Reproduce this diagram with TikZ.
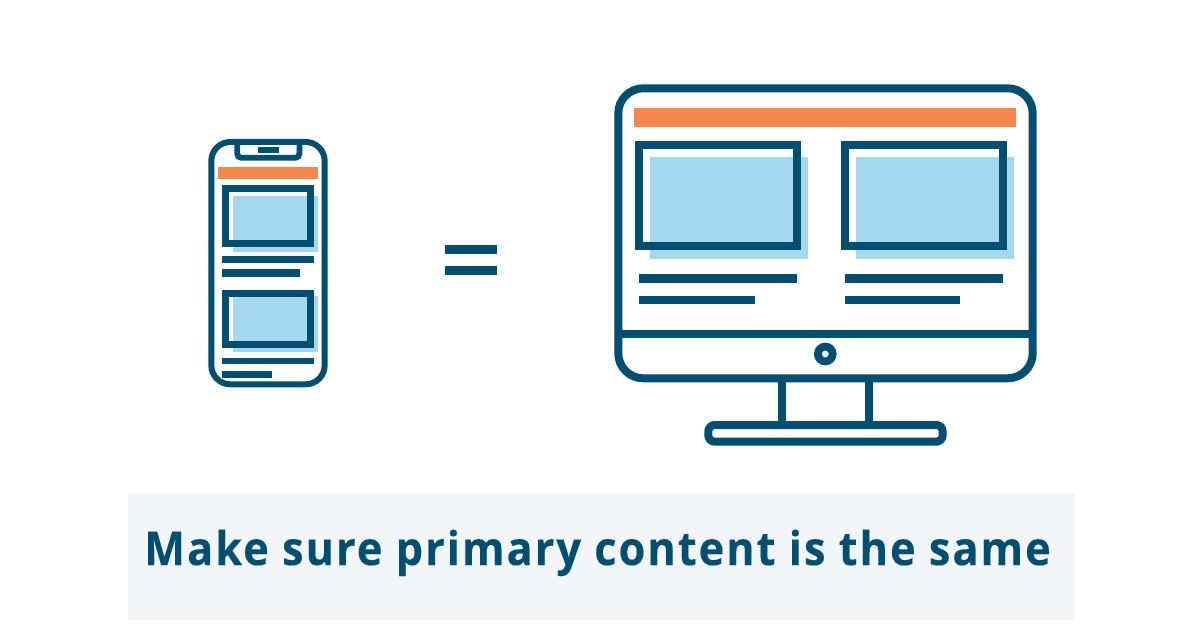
\documentclass[tikz,border=0pt]{standalone}
\usepackage{fontspec}
\newfontfamily\capfont[FakeStretch=0.93,LetterSpace=4.4,BoldFeatures={FakeBold=0.25}]{Open Sans}
\definecolor{ink}{HTML}{004F71}
\definecolor{peach}{HTML}{F6874D}
\definecolor{sky}{HTML}{A5D8EE}
\definecolor{band}{HTML}{F2F6F9}
\tikzset{
  bar/.style={fill=ink,draw=none},
  accent/.style={fill=peach,draw=none},
  shade/.style={fill=sky,draw=none},
  phoneline/.style={draw=ink,line width=6pt,fill=none},
  deskline/.style={draw=ink,line width=8pt,fill=none},
}
\begin{document}
\begin{tikzpicture}[x=1pt,y=-1pt]
\useasboundingbox (0,0) rectangle (1200,628);
\fill[white] (0,0) rectangle (1200,628);
% phone
\draw[phoneline,rounded corners=19pt] (211.3,142) rectangle (324.7,384.3);
\draw[phoneline,line width=5.8pt,rounded corners=4pt] (237.2,142) -- (237.2,157.8) -- (299.4,157.8) -- (299.4,142);
\fill[bar] (258.3,147.3) rectangle (279,152.7);
\fill[accent] (218.3,166.7) rectangle (318.3,179.3);
\fill[shade] (233.3,196) rectangle (318.3,251.7);
\draw[phoneline,line width=7pt] (225.8,188.5) rectangle (310.5,243.8);
\fill[bar] (222.3,256) rectangle (314,262.7);
\fill[bar] (222.3,269.3) rectangle (300.3,276.7);
\fill[shade] (233.3,295.7) rectangle (318.3,351.7);
\draw[phoneline,line width=7pt] (225.8,293.8) rectangle (310.5,344.8);
\fill[bar] (222.3,357.7) rectangle (314,364.3);
\fill[bar] (222.3,371) rectangle (272.3,377.7);
% equals
\fill[bar] (445,245) rectangle (496.5,254.2);
\fill[bar] (445,266) rectangle (496.5,275.3);
% monitor
\draw[deskline,rounded corners=25pt] (618.3,88.3) rectangle (1032.7,378.3);
\draw[deskline] (618.3,334.2) -- (1032.7,334.2);
\fill[accent] (634,108.3) rectangle (1016,127.3);
\fill[shade] (650.3,157.3) rectangle (808,259.3);
\draw[deskline] (639.2,145) rectangle (796.7,246.5);
\fill[shade] (856,157.3) rectangle (1014,259.3);
\draw[deskline] (844.7,145) rectangle (1002.7,246.5);
\fill[bar] (639,274) rectangle (796.7,282.7);
\fill[bar] (639,295.7) rectangle (754.7,304.3);
\fill[bar] (844.7,274) rectangle (1002.7,282.7);
\fill[bar] (844.7,295.7) rectangle (960.3,304.3);
\draw[deskline,line width=7.8pt] (825.3,354) circle (7.4pt);
\draw[deskline] (782,382) -- (782,421);
\draw[deskline] (868.7,382) -- (868.7,421);
\draw[deskline,rounded corners=6.5pt] (708.3,425) rectangle (942.7,441.7);
% caption
\fill[band] (128,493) rectangle (1075,620.3);
\node[inner sep=0pt,text=ink,anchor=base] (caption) at (597.5,565)
  {\fontsize{46.5}{56}\selectfont\capfont\bfseries Make sure primary content is the same};
\end{tikzpicture}
\end{document}
